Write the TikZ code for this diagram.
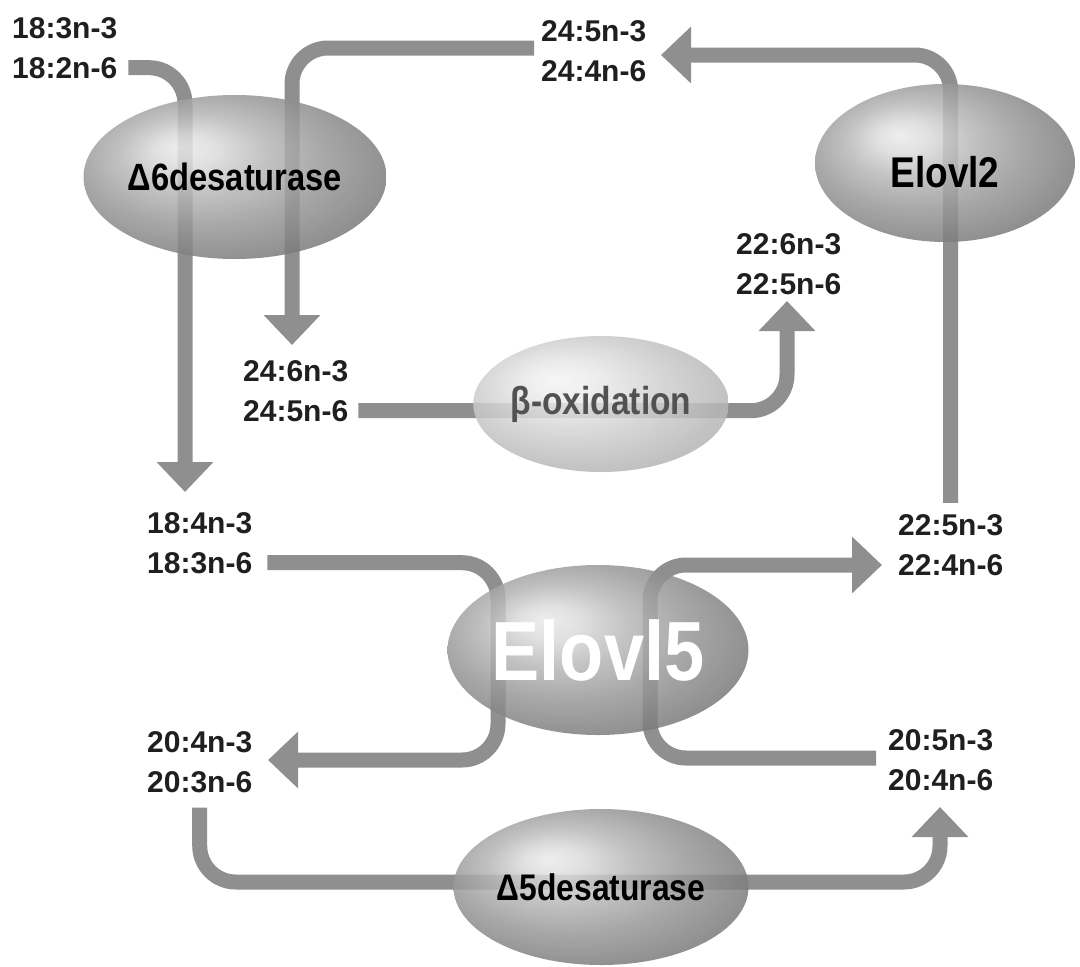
\documentclass[tikz,border=0pt]{standalone}
\usepackage{fontspec}
\setmainfont{Liberation Sans}
\newfontfamily\enzfont{Liberation Sans}[FakeStretch=0.86]
\usetikzlibrary{shapes.geometric,arrows.meta}

% Shadings of the enzymes
\pgfdeclareradialshading{enzyme}{\pgfpoint{-9bp}{9bp}}{%
  color(0bp)=(black!8); color(5bp)=(black!14); color(12bp)=(black!28);
  color(20bp)=(black!40); color(30bp)=(black!52); color(40bp)=(black!64);
  color(50bp)=(black!70)}
\pgfdeclareradialshading{oxid}{\pgfpoint{-9bp}{9bp}}{%
  color(0bp)=(black!4); color(8bp)=(black!9); color(18bp)=(black!19);
  color(28bp)=(black!28); color(40bp)=(black!35); color(50bp)=(black!38)}

\tikzset{
  fa/.style={anchor=base west, inner sep=0pt, text=black!88,
    font=\bfseries\fontsize{30}{30}\selectfont},
  band/.style={line width=15pt, draw=black!44, rounded corners=36pt,
    -{Triangle[width=55pt,length=30pt]}},
  enzyme/.style={ellipse, inner sep=0pt, shading=enzyme, fill opacity=0.85,
    text opacity=1, font=\enzfont\bfseries\fontsize{#1}{#1}\selectfont}
}

\begin{document}
\begin{tikzpicture}[x=1pt, y=-1pt]
  \useasboundingbox (0,0) rectangle (1080,967);

  % Fatty acids
  \node[fa] (f1) at (12,38) {18:3n-3};
  \node[fa] (f2) at (12,78) {18:2n-6};
  \node[fa] (g1) at (541,41) {24:5n-3};
  \node[fa] (g2) at (541,81) {24:4n-6};
  \node[fa] (h1) at (243,381) {24:6n-3};
  \node[fa] (h2) at (243,421) {24:5n-6};
  \node[fa] (k1) at (736,254) {22:6n-3};
  \node[fa] (k2) at (736,294) {22:5n-6};
  \node[fa] (m1) at (147,533) {18:4n-3};
  \node[fa] (m2) at (147,573) {18:3n-6};
  \node[fa] (n1) at (898,535) {22:5n-3};
  \node[fa] (n2) at (898,575) {22:4n-6};
  \node[fa] (p1) at (147,752) {20:4n-3};
  \node[fa] (p2) at (147,792) {20:3n-6};
  \node[fa] (q1) at (888,750) {20:5n-3};
  \node[fa] (q2) at (888,790) {20:4n-6};

  % Ends and bends of the bands
  \coordinate (tA) at (185,492);
  \coordinate (sB) at (534,48);
  \coordinate (tB) at (292,345);
  \coordinate (tC) at (661,55);
  \coordinate (tD) at (787,301);
  \coordinate (kE) at (498,760);
  \coordinate (tE) at (268,760);
  \coordinate (sF) at (876,758);
  \coordinate (kF) at (650,565);
  \coordinate (tF) at (882,565);
  \coordinate (kG) at (940,882);
  \coordinate (tG) at (940,807);

  % Bands
  \draw[band] ([xshift=11pt]f2.east) -| (tA);
  \draw[band] (sB) -| (tB);
  \draw[band] ([yshift=11pt]n1.north) |- (tC);
  \draw[band] ([xshift=10pt]h2.east) -| (tD);
  \draw[band] ([xshift=15pt]m2.east) -| (kE) -- (tE);
  \draw[band] (sF) -| (kF) -- (tF);
  \draw[band] ([yshift=-15pt]p2.south) |- (kG) -- (tG);

  % Enzymes
  \node[enzyme=38, minimum width=264pt, minimum height=164pt] (d6) at (235,177) {Δ6desaturase};
  \node[enzyme=43, minimum width=260pt, minimum height=158pt] (e2) at (945,163) {\raisebox{-9pt}[\height][0pt]{Elovl2}};
  \node[enzyme=39, shading=oxid, text=black!68, minimum width=218pt, minimum height=136pt] (bo) at (601,404) {β-oxidation};
  \node[enzyme=84, text=white, minimum width=287pt, minimum height=170pt] (e5) at (598,650) {Elovl5};
  \node[enzyme=37, minimum width=267pt, minimum height=156pt] (d5) at (601,887) {Δ5desaturase};
\end{tikzpicture}
\end{document}
